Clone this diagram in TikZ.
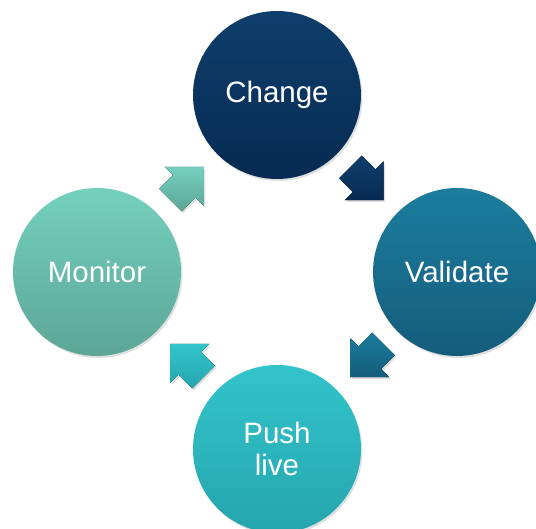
\documentclass[tikz,border=0pt]{standalone}
\usepackage{fontspec}
\setmainfont{Liberation Sans}
\usetikzlibrary{shadows,calc}

\definecolor{changetop}{HTML}{0E3E6C}
\definecolor{changebot}{HTML}{072B52}
\definecolor{validatetop}{HTML}{1C7D9D}
\definecolor{validatebot}{HTML}{145C7C}
\definecolor{pushtop}{HTML}{33C4CB}
\definecolor{pushbot}{HTML}{25A5AE}
\definecolor{monitortop}{HTML}{74D0BE}
\definecolor{monitorbot}{HTML}{5CA696}

\tikzset{
    softshadow/.style={drop shadow={opacity=0.25, shadow xshift=1.5pt, shadow yshift=-2pt}},
    stage/.style={circle, minimum size=168pt, inner sep=0pt, text=white, align=center,
        font=\fontsize{29.5}{32}\selectfont, softshadow},
    pics/cyclearrow/.style n args={3}{code={
        \fill[top color=#2, bottom color=#3, softshadow]
            ([rotate=#1]-23.5,-16) -- ([rotate=#1]-4,-16) -- ([rotate=#1]-4,-27.5) -- ([rotate=#1]23.5,0)
            -- ([rotate=#1]-4,27.5) -- ([rotate=#1]-4,16) -- ([rotate=#1]-23.5,16) -- cycle;
    }}
}

\begin{document}
\begin{tikzpicture}[x=1pt, y=1pt]
    % Frame
    \clip (-277,-256) rectangle (259,272);

    % Stages
    \node[stage, top color=changetop, bottom color=changebot] (change) at (0,177) {Change};
    \node[stage, top color=validatetop, bottom color=validatebot] (validate) at (180,0) {Validate};
    \node[stage, top color=pushtop, bottom color=pushbot] (push) at (0,-177) {Push\\live};
    \node[stage, top color=monitortop, bottom color=monitorbot] (monitor) at (-180,0) {Monitor};

    % Arrows between stages
    \pic at ($(change)!0.5!(validate)$) {cyclearrow={-45}{changetop}{changebot}};
    \pic at ($(validate)!0.5!(push)$) {cyclearrow={-135}{validatetop}{validatebot}};
    \pic at ($(push)!0.5!(monitor)$) {cyclearrow={135}{pushtop}{pushbot}};
    \pic at ($(monitor)!0.5!(change)$) {cyclearrow={45}{monitortop}{monitorbot}};
\end{tikzpicture}
\end{document}
